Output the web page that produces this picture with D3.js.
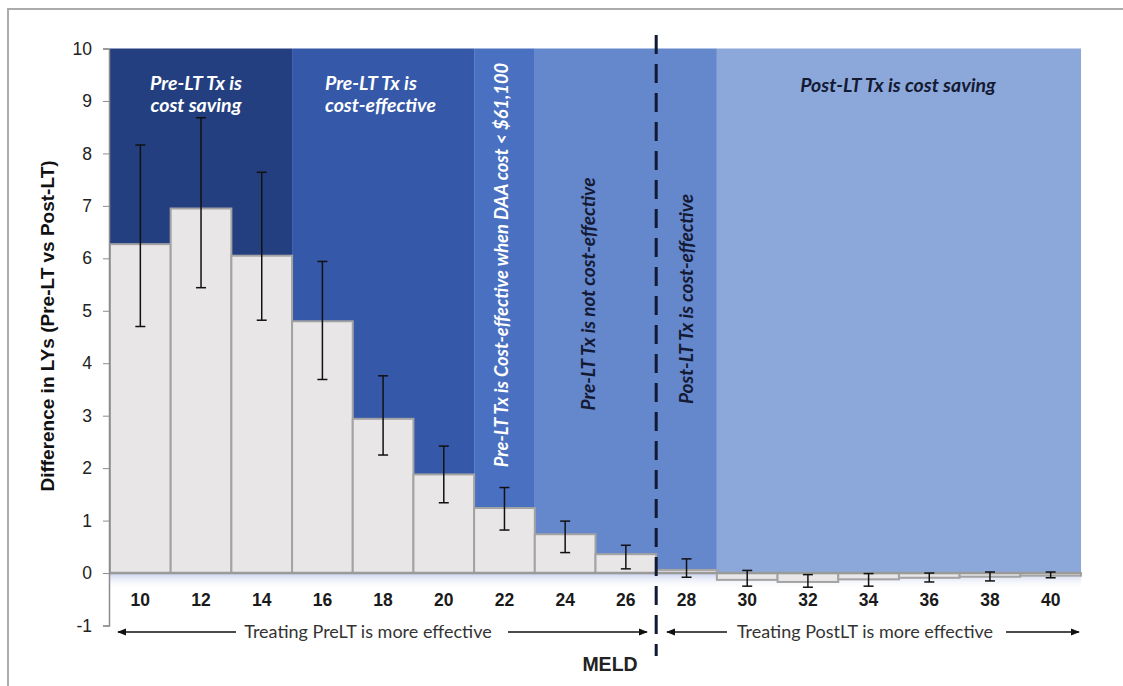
<!DOCTYPE html>
<html>
<head>
<meta charset="utf-8">
<script src="https://cdn.jsdelivr.net/npm/d3@7"></script>
<style>
  html, body { margin: 0; padding: 0; background: #ffffff; }
  svg { display: block; }
</style>
</head>
<body>
<svg id="chart" width="1123" height="686"></svg>
<script>
// MELD score categories and the difference in life-years (pre-LT vs post-LT treatment)
const meld = [10, 12, 14, 16, 18, 20, 22, 24, 26, 28, 30, 32, 34, 36, 38, 40];
const lyDiff = [6.27, 6.95, 6.05, 4.80, 2.94, 1.88, 1.24, 0.74, 0.36, 0.06, -0.13, -0.17, -0.12, -0.09, -0.07, -0.05];
const ciLow  = [4.70, 5.44, 4.82, 3.69, 2.25, 1.34, 0.82, 0.39, 0.08, -0.08, -0.25, -0.27, -0.25, -0.17, -0.15, -0.09];
const ciHigh = [8.16, 8.68, 7.64, 5.94, 3.76, 2.42, 1.63, 0.99, 0.53, 0.27, 0.05, -0.03, -0.01, 0.00, 0.02, 0.02];
const yTicks = [-1, 0, 1, 2, 3, 4, 5, 6, 7, 8, 9, 10];

// Cost-effectiveness zones (first and last MELD of each zone)
const zoneFrom  = [10, 16, 22, 24, 30];
const zoneTo    = [14, 20, 22, 28, 40];
const zoneColor = ["#243f7f", "#3558a8", "#4a70c1", "#6587cc", "#8ca8da"];

const svg = d3.select("#chart");

const x = d3.scaleBand().domain(meld).range([110, 1081]).padding(0);
const y = d3.scaleLinear().domain([-1, 10]).range([625.5, 48.5]);

// outer frame
svg.append("rect")
  .attr("x", 8).attr("y", 9).attr("width", 1130).attr("height", 700)
  .attr("fill", "none").attr("stroke", "#ababab").attr("stroke-width", 2);

// soft shade just under the zero line
const defs = svg.append("defs");
const grad = defs.append("linearGradient").attr("id", "underShade")
  .attr("x1", 0).attr("y1", 0).attr("x2", 0).attr("y2", 1);
grad.append("stop").attr("offset", "0%").attr("stop-color", "#b9c4e8").attr("stop-opacity", 0.8);
grad.append("stop").attr("offset", "100%").attr("stop-color", "#ffffff").attr("stop-opacity", 0);
svg.append("rect")
  .attr("x", x.range()[0]).attr("y", y(0))
  .attr("width", x.range()[1] - x.range()[0]).attr("height", 16)
  .attr("fill", "url(#underShade)");

// zone backgrounds
svg.append("g").selectAll("rect")
  .data(zoneFrom.map((f, i) => ({ f, t: zoneTo[i], c: zoneColor[i] })))
  .join("rect")
  .attr("x", d => x(d.f))
  .attr("width", d => x(d.t) + x.bandwidth() - x(d.f))
  .attr("y", y(10))
  .attr("height", y(0) - y(10))
  .attr("fill", d => d.c);

// bars
svg.append("g").selectAll("rect")
  .data(meld.map((m, i) => ({ m, v: lyDiff[i] })))
  .join("rect")
  .attr("x", d => x(d.m))
  .attr("width", x.bandwidth())
  .attr("y", d => y(Math.max(0, d.v)))
  .attr("height", d => Math.abs(y(d.v) - y(0)))
  .attr("fill", "#e8e6e6")
  .attr("stroke", "#a3a3a3")
  .attr("stroke-width", 2);

// zero line
svg.append("line")
  .attr("x1", x.range()[0]).attr("x2", x.range()[1])
  .attr("y1", y(0)).attr("y2", y(0))
  .attr("stroke", "#9a9a9a").attr("stroke-width", 2.5);

// error bars
const eb = svg.append("g").attr("stroke", "#111111").attr("stroke-width", 1.5);
meld.forEach((m, i) => {
  const cx = x(m) + x.bandwidth() / 2;
  eb.append("line").attr("x1", cx).attr("x2", cx).attr("y1", y(ciLow[i])).attr("y2", y(ciHigh[i]));
  eb.append("line").attr("x1", cx - 5).attr("x2", cx + 5).attr("y1", y(ciLow[i])).attr("y2", y(ciLow[i]));
  eb.append("line").attr("x1", cx - 5).attr("x2", cx + 5).attr("y1", y(ciHigh[i])).attr("y2", y(ciHigh[i]));
});

// y axis
const yAxis = svg.append("g")
  .attr("transform", "translate(109,0)")
  .call(d3.axisLeft(y).tickValues(yTicks).tickSize(6).tickPadding(11).tickFormat(d => String(d)));
yAxis.select(".domain").attr("stroke", "#8c8c8c").attr("stroke-width", 1.5);
yAxis.selectAll(".tick line").attr("stroke", "#8c8c8c");
yAxis.selectAll("text")
  .attr("font-family", "Liberation Sans, Arial, sans-serif")
  .attr("font-size", 17.5).attr("fill", "#222");

// x tick labels (MELD)
svg.append("g").selectAll("text")
  .data(meld)
  .join("text")
  .attr("x", d => x(d) + x.bandwidth() / 2)
  .attr("y", 606)
  .attr("text-anchor", "middle")
  .attr("font-family", "Liberation Sans, Arial, sans-serif")
  .attr("font-weight", "bold").attr("font-size", 17.5).attr("fill", "#1a1a1a")
  .text(d => d);

// y axis title
svg.append("text")
  .attr("transform", "translate(54,326) rotate(-90)")
  .attr("text-anchor", "middle")
  .attr("font-family", "Liberation Sans, Arial, sans-serif")
  .attr("font-weight", "bold").attr("font-size", 19).attr("fill", "#111")
  .text("Difference in LYs (Pre-LT vs Post-LT)");

// MELD divider
svg.append("line")
  .attr("x1", x(28)).attr("x2", x(28))
  .attr("y1", 35).attr("y2", 656)
  .attr("stroke", "#111a33").attr("stroke-width", 3)
  .attr("stroke-dasharray", "19,10");

// zone annotations
const noteFont = "Lato, 'Open Sans', sans-serif";
function note(lines, tx, ty, anchor, color, rot, size) {
  const t = svg.append("text")
    .attr("transform", `translate(${tx},${ty})` + (rot ? ` rotate(${rot})` : ""))
    .attr("text-anchor", anchor)
    .attr("font-family", noteFont)
    .attr("font-style", "italic").attr("font-weight", "bold")
    .attr("font-size", size).attr("fill", color);
  lines.forEach((s, i) => t.append("tspan").attr("x", 0).attr("dy", i === 0 ? 0 : 22).text(s));
}
note(["Pre-LT Tx is", "cost saving"], 196, 90, "middle", "#ffffff", 0, 19.5);
note(["Pre-LT Tx is", "cost-effective"], 325, 90, "start", "#ffffff", 0, 19.5);
note(["Pre-LT Tx is Cost-effective when DAA cost < $61,100"], 508, 265, "middle", "#ffffff", -90, 18.3);
note(["Pre-LT Tx is not cost-effective"], 595, 294, "middle", "#141a33", -90, 19);
note(["Post-LT Tx is cost-effective"], 693, 299, "middle", "#141a33", -90, 19);
note(["Post-LT Tx is cost saving"], 898, 92, "middle", "#141a33", 0, 19.5);

// direction arrows under the axis
defs.append("marker").attr("id", "arrowHead")
  .attr("viewBox", "0 0 10 10").attr("refX", 9).attr("refY", 5)
  .attr("markerWidth", 9).attr("markerHeight", 9).attr("orient", "auto-start-reverse")
  .attr("markerUnits", "userSpaceOnUse")
  .append("path").attr("d", "M0,1 L10,5 L0,9 Z").attr("fill", "#111");

const arrowY = 632;
const arrows = svg.append("g").attr("stroke", "#111").attr("stroke-width", 1.5);
arrows.append("line").attr("x1", 236).attr("x2", 118).attr("y1", arrowY).attr("y2", arrowY).attr("marker-end", "url(#arrowHead)");
arrows.append("line").attr("x1", 508).attr("x2", 647).attr("y1", arrowY).attr("y2", arrowY).attr("marker-end", "url(#arrowHead)");
arrows.append("line").attr("x1", 727).attr("x2", 667).attr("y1", arrowY).attr("y2", arrowY).attr("marker-end", "url(#arrowHead)");
arrows.append("line").attr("x1", 1006).attr("x2", 1079).attr("y1", arrowY).attr("y2", arrowY).attr("marker-end", "url(#arrowHead)");

const dirFont = { family: "Lato, 'Open Sans', sans-serif", size: 18 };
svg.append("text").attr("x", 368).attr("y", 638).attr("text-anchor", "middle")
  .attr("font-family", dirFont.family).attr("font-size", dirFont.size).attr("fill", "#333")
  .text("Treating PreLT is more effective");
svg.append("text").attr("x", 865).attr("y", 638).attr("text-anchor", "middle")
  .attr("font-family", dirFont.family).attr("font-size", dirFont.size).attr("fill", "#333")
  .text("Treating PostLT is more effective");

// x axis title
svg.append("text").attr("x", 610).attr("y", 671).attr("text-anchor", "middle")
  .attr("font-family", "Liberation Sans, Arial, sans-serif")
  .attr("font-weight", "bold").attr("font-size", 19.5).attr("fill", "#222")
  .text("MELD");
</script>
</body>
</html>
